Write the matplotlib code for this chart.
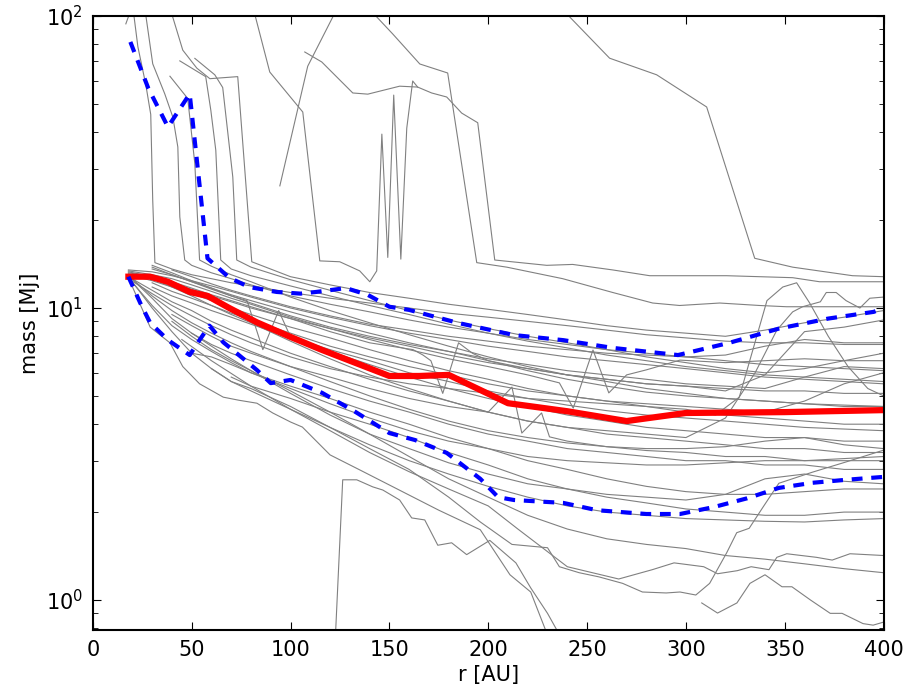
import numpy as np
import matplotlib.pyplot as plt

nan = np.nan

# radius grid shared by most of the grey tracks
r_grid = [18, 30, 40, 50, 60, 70, 80, 100, 120, 140, 160, 180, 200,
          220, 240, 260, 280, 300, 320, 340, 360, 380, 400]

band_1 = [13.0, 12.4, 11.8, 11.2, 10.6, 10.0, 9.5, 8.6, 7.9, 7.2, 6.6, 6.1, 5.7, 5.3, 5.0, 4.8, 4.6, 4.4, 4.3, 4.2, 4.1, 4.0, 4.0]
band_2 = [12.8, 11.5, 10.5, 9.8, 9.0, 8.4, 7.9, 7.0, 6.3, 5.7, 5.2, 4.8, 4.4, 4.1, 3.9, 3.7, 3.6, 3.5, 3.4, 3.3, 3.3, 3.2, 3.2]
band_3 = [13.2, 12.8, 12.2, 11.6, 11.0, 10.5, 10.0, 9.2, 8.5, 7.9, 7.4, 6.9, 6.5, 6.2, 5.9, 5.7, 5.5, 5.4, 5.3, 5.2, 5.2, 5.1, 5.1]
band_4 = [12.9, 10.8, 9.2, 8.2, 7.5, 7.0, 6.6, 5.9, 5.3, 4.8, 4.4, 4.0, 3.7, 3.5, 3.3, 3.2, 3.1, 3.0, 3.0, 2.9, 2.9, 2.8, 2.8]
band_5 = [nan, 14.0, 13.2, 12.4, 11.7, 11.0, 10.4, 9.4, 8.6, 8.0, 7.5, 7.1, 6.7, 6.4, 6.1, 5.9, 5.7, 5.5, 5.4, 5.3, 5.8, 6.3, 6.2]
band_6 = [nan, 11.8, 11.0, 10.4, 9.8, 9.3, 8.8, 7.9, 7.1, 6.4, 5.8, 5.3, 4.9, 4.6, 4.3, 4.1, 3.9, 3.8, 3.7, 3.6, 3.6, 3.5, 3.5]
band_7 = [nan, nan, nan, 7.0, 6.8, 6.4, 6.0, 5.4, 4.9, 4.4, 4.0, 3.6, 3.3, 3.0, 2.8, 2.6, 2.45, 2.35, 2.3, 2.3, 2.35, 2.4, 2.4]
band_8 = [nan, nan, nan, nan, nan, 5.8, 5.4, 4.9, 4.4, 4.0, 3.6, 3.2, 2.9, 2.6, 2.4, 2.25, 2.15, 2.05, 2.0, 1.95, 1.95, 2.0, 2.0]
band_9 = [nan, nan, 9.0, 8.0, 7.2, 6.6, 6.1, 5.2, 4.4, 3.7, 3.1, 2.6, 2.25, 1.95, 1.75, 1.62, 1.55, 1.5, 1.42, 1.38, 1.33, 1.28, 1.24]
band_10 = [nan, 13.6, 13.0, 12.3, 11.7, 11.1, 10.6, 9.7, 8.9, 8.2, 7.6, 7.1, 6.6, 6.2, 5.9, 5.7, 5.5, 5.4, 5.2, 5.9, 8.3, 8.6, 9.1]
band_11 = [12.7, 10.2, 8.7, 7.8, 7.1, 6.5, 6.0, 5.3, 4.7, 4.2, 3.8, 3.5, 3.3, 3.1, 3.0, 2.95, 2.9, 2.9, 2.95, 3.0, 3.0, 3.0, 3.0]
band_12 = [nan, nan, nan, nan, 6.2, 5.6, 5.2, 4.5, 3.9, 3.4, 3.0, 2.7, 2.45, 2.25, 2.1, 2.0, 1.95, 1.9, 1.88, 1.86, 1.85, 1.88, 1.9]
band_13 = [13.5, 13.3, 12.9, 12.4, 11.9, 11.4, 10.9, 10.0, 9.3, 8.7, 8.2, 7.8, 7.4, 7.1, 6.8, 6.6, 6.4, 6.2, 6.0, 5.8, 5.7, 5.6, 5.5]
band_14 = [nan, 12.2, 11.4, 10.8, 10.2, 9.6, 9.1, 8.2, 7.4, 6.8, 6.3, 5.9, 5.5, 5.2, 5.0, 4.8, 4.7, 4.6, 4.5, 4.4, 4.8, 5.5, 6.0]
band_15 = [12.9, 11.0, 9.8, 8.9, 8.2, 7.6, 7.1, 6.3, 5.6, 5.0, 4.5, 4.1, 3.8, 3.6, 3.45, 3.35, 3.3, 3.3, 3.35, 3.5, 3.6, 3.4, 3.3]
band_16 = [nan, nan, 13.5, 12.8, 12.1, 11.5, 11.0, 10.1, 9.4, 8.8, 8.4, 8.0, 7.7, 7.4, 7.2, 7.0, 6.9, 6.8, 6.9, 7.4, 7.8, 7.6, 7.6]
band_17 = [nan, nan, nan, 8.2, 7.4, 6.7, 6.1, 5.1, 4.3, 3.7, 3.3, 2.95, 2.7, 2.5, 2.4, 2.3, 2.25, 2.2, 2.3, 2.6, 2.7, 2.55, 2.5]

# tracks that start high and fall into the band
steep_a_r = [16.7, 19.7, 21.5]
steep_a_m = [94, 107, 115]
steep_b_r = [20.5, 22.8, 26.8, 29.3, 30.3, 31.4, 40, 50, 60, 70, 80, 100, 120, 140, 160, 180, 200, 220, 240, 260, 280, 300, 320, 340, 360, 380, 400]
steep_b_m = [104, 78.4, 58.2, 46.0, 23.4, 14.3, 13.6, 13.0, 12.6, 12.2, 11.9, 11.3, 10.8, 10.4, 10.0, 9.6, 9.3, 9.0, 8.7, 8.4, 8.1, 7.9, 7.7, 7.6, 7.6, 7.5, 7.5]
steep_c_r = [26.5, 30.3, 36.4, 40.5, 43, 44, 46.5, 50, 60, 70, 80, 100, 120, 140, 160, 180, 200, 220, 240, 260, 280, 300, 320, 340, 360, 380, 400]
steep_c_m = [104, 68.6, 54.1, 45, 35.6, 20.5, 14.6, 14.0, 13.2, 12.6, 12.0, 11.0, 10.3, 9.7, 9.1, 8.6, 8.2, 7.8, 7.5, 7.2, 7.0, 6.8, 6.6, 6.4, 6.3, 6.2, 6.1]
steep_d_r = [39.5, 45.5, 52.6, 59.2, 73.3, 80.4, 100, 120, 140, 160, 180, 200, 220, 240, 260, 280, 300, 320, 340, 360, 380, 400]
steep_d_m = [104, 76.4, 66.3, 61, 62, 14.4, 12.8, 12.0, 11.3, 10.8, 10.3, 9.9, 9.5, 9.1, 8.7, 8.4, 8.2, 8.0, 8.4, 8.9, 9.3, 9.8]
steep_e_r = [44, 57.1, 59.7, 62.2, 64.7, 70, 80, 100, 120, 140, 160, 180, 200, 220, 240, 260, 280, 300, 320, 340, 360, 380, 400]
steep_e_m = [70.2, 62, 47.5, 34.7, 14.6, 13.6, 12.9, 11.9, 11.0, 10.2, 9.5, 8.8, 8.2, 7.7, 7.3, 6.9, 6.6, 6.3, 6.1, 5.9, 5.8, 5.7, 5.6]
steep_f_r = [51.6, 61.7, 65.7, 70.8, 72.8, 80, 100, 120, 140, 160, 180, 200, 220, 240, 260, 280, 300, 320, 340, 360, 380, 400]
steep_f_m = [71.6, 62.9, 56.9, 28.1, 14.6, 13.8, 12.5, 11.5, 10.6, 9.8, 9.1, 8.5, 8.0, 7.6, 7.2, 6.8, 6.5, 6.2, 6.0, 6.2, 6.6, 7.0]
steep_g_r = [39, 48, 51.6, 54, 60, 70, 80, 100, 120, 140, 160, 180, 200, 220, 240, 260, 280, 300, 320, 340, 360, 380, 400]
steep_g_m = [62.2, 52.2, 31.2, 14.6, 13.9, 13.0, 12.3, 10.9, 9.8, 8.9, 8.1, 7.4, 6.8, 6.3, 5.9, 5.6, 5.3, 5.1, 4.9, 4.8, 4.7, 4.6, 4.6]
spiky_r = [81.5, 89.5, 106.2, 114.8, 124.9, 135, 140.1, 143.6, 146.2, 149.2, 152.2, 155.8, 158.8, 161.8, 164.3]
spiky_m = [104, 64.3, 46.9, 14.5, 14.4, 13.4, 12.3, 13.4, 39.4, 14.9, 53.6, 14.7, 41.3, 59.9, 57.1]
rising_r = [94.6, 108.7, 121.4, 123]
rising_m = [26.2, 67.3, 99.3, 108]
late_a_r = [107.2, 115.8, 131.5, 139.1, 155.2, 164.3, 171.4, 179, 186.6, 194.7, 203.3, 229.6, 242.7, 263, 281.7, 296.9, 320.6, 337.3, 354, 367.6, 400]
late_a_m = [75.3, 69.6, 54.5, 54.0, 57.5, 57.1, 54.5, 52.8, 46.5, 43.1, 14.6, 14.0, 14.1, 13.5, 12.9, 12.9, 12.9, 12.8, 12.7, 12.3, 12.3]
late_b_r = [141.5, 143.6, 151.7, 165.4, 179.5, 194.2, 209.4, 237.7, 263, 283.2, 296.8, 317.1, 337.3, 350.9, 400]
late_b_m = [106, 99.3, 86.8, 68.5, 63.8, 14.3, 13.8, 12.6, 11.3, 10.4, 10.2, 10.4, 10.2, 10.1, 10.1]
late_c_r = [238, 241.2, 261.4, 285.2, 310.5, 334.8, 354, 384.3, 400]
late_c_m = [106, 99.3, 71.7, 62.9, 48.8, 14.8, 13.8, 12.9, 12.8]

# low tracks and tracks with kinks
low_a_r = [122.5, 126.4, 133.5, 141.6, 146.7, 155.2, 161.3, 167.9, 174.5, 181.5, 189.1, 200.8, 214, 221.5, 230, 239]
low_a_m = [0.7, 2.58, 2.58, 2.44, 2.38, 2.2, 1.91, 1.88, 1.54, 1.57, 1.43, 1.6, 1.34, 1.1, 0.9, 0.7]
low_b_r = [18, 29, 39, 45.5, 54, 66, 74, 83, 91, 100, 106, 120, 135, 155, 175, 196, 211, 221.5, 232]
low_b_m = [12.7, 8.6, 7.6, 6.3, 5.5, 4.95, 4.83, 4.72, 4.37, 4.07, 3.91, 3.14, 2.79, 2.38, 2.03, 1.74, 1.22, 1.065, 0.7]
low_c_r = [308, 316, 325.8, 332.4, 340, 348.6, 353.6, 363, 373, 379, 389.6, 394.7, 400]
low_c_m = [0.977, 0.902, 0.977, 1.14, 1.22, 1.11, 1.11, 1.0, 0.90, 0.90, 0.83, 0.82, 0.84]
low_d_r = [18, 30, 40, 50, 60, 70, 80, 100, 120, 140, 160, 180, 196, 212, 230, 236, 246, 256, 268, 278, 290, 297, 305, 312, 320.6, 325.7, 332, 339, 347, 364, 381, 400]
low_d_m = [12.8, 10.0, 8.3, 7.0, 6.2, 5.6, 5.3, 4.6, 3.9, 3.3, 2.8, 2.25, 1.85, 1.55, 1.51, 1.30, 1.24, 1.2, 1.14, 1.065, 1.057, 1.065, 1.04, 1.14, 1.45, 1.70, 1.76, 2.08, 2.51, 2.74, 2.97, 3.26]
low_e_r = [45, 60, 80, 100, 120, 140, 160, 180, 200, 215, 240, 266, 283, 294, 309, 316, 326, 333, 342, 346, 351, 366, 374, 383, 400]
low_e_m = [7.8, 6.6, 5.4, 4.5, 3.8, 3.2, 2.75, 2.4, 2.1, 1.75, 1.30, 1.18, 1.27, 1.34, 1.30, 1.23, 1.26, 1.30, 1.27, 1.40, 1.44, 1.40, 1.37, 1.44, 1.42]
kink_a_r = [18, 30, 40, 50, 60, 70, 80, 100, 120, 140, 160, 180, 200, 220, 240, 260, 280, 300, 315, 327, 341, 349, 356, 362.6, 372, 382, 392, 400]
kink_a_m = [12.6, 11.2, 10.2, 9.4, 8.7, 8.1, 7.6, 6.8, 6.2, 5.8, 5.5, 5.3, 5.1, 4.9, 4.8, 4.7, 4.6, 4.5, 4.3, 4.95, 10.6, 11.8, 12.2, 10.4, 8.0, 6.3, 5.3, 5.0]
kink_b_r = [18, 30, 40, 50, 60, 70, 80, 100, 120, 140, 160, 180, 200, 220, 240, 260, 280, 300, 320, 335, 346, 354, 359, 368, 371, 376, 381, 388, 393, 400]
kink_b_m = [13.1, 12.6, 11.8, 11.0, 10.2, 9.5, 8.9, 7.7, 6.7, 5.9, 5.3, 4.8, 4.4, 4.1, 3.9, 3.8, 3.7, 3.6, 4.2, 6.0, 8.4, 9.7, 10.1, 10.5, 11.3, 11.3, 10.6, 10.0, 10.8, 10.9]
kink_c_r = [18, 30, 40, 50, 60, 70, 80, 100, 120, 140, 160, 180, 200, 220, 236, 243, 253, 261, 270, 280, 297, 320, 340, 360, 380, 400]
kink_c_m = [13.4, 13.0, 12.6, 12.0, 11.4, 10.8, 10.3, 9.3, 8.5, 7.8, 7.2, 6.7, 6.3, 5.9, 5.54, 4.54, 7.18, 5.12, 5.9, 6.14, 6.63, 6.5, 6.6, 6.7, 6.6, 6.6]
kink_d_r = [30, 40, 50, 60, 70, 78, 86, 94, 100, 120, 140, 160, 180, 200, 220, 240, 260, 280, 300, 320, 340, 360, 380, 400]
kink_d_m = [13.8, 13.0, 12.3, 11.6, 11.0, 10.6, 7.2, 9.8, 7.96, 7.2, 6.6, 6.0, 5.6, 5.2, 4.9, 4.65, 4.45, 4.3, 4.2, 4.1, 4.0, 3.9, 3.85, 3.8]
kink_e_r = [18, 30, 40, 50, 60, 70, 80, 100, 120, 140, 162, 167, 171, 177, 185, 192, 200, 220, 240, 260, 280, 300, 320, 340, 360, 380, 400]
kink_e_m = [13.3, 12.8, 12.3, 11.7, 11.1, 10.6, 10.1, 9.2, 8.3, 7.6, 7.2, 6.9, 6.6, 5.1, 7.6, 7.0, 6.6, 6.1, 5.7, 5.4, 5.15, 5.0, 4.9, 4.8, 4.7, 4.65, 4.6]
kink_f_r = [40, 50, 60, 70, 80, 100, 120, 140, 160, 180, 200, 212, 217, 227, 231, 240, 260, 280, 300, 320, 340, 360, 380, 400]
kink_f_m = [9.5, 8.7, 8.0, 7.4, 7.0, 6.3, 5.8, 5.3, 4.9, 4.6, 4.4, 5.36, 3.73, 4.37, 3.62, 3.5, 3.35, 3.25, 3.2, 3.1, 3.1, 3.0, 3.05, 3.1]

# median and 16/84 percentile curves
med_r = [18, 29, 38, 49, 58, 69, 83, 100, 116, 133, 150, 165, 180, 210, 240, 270, 300, 350, 400]
med_m = [12.8, 12.8, 12.3, 11.35, 11.0, 10.0, 8.93, 7.96, 7.18, 6.48, 5.85, 5.85, 5.9, 4.72, 4.43, 4.1, 4.37, 4.4, 4.47]
hi_r = [19, 28, 38, 49, 58, 69, 79, 93, 105, 113, 128, 139, 150, 160, 185, 213, 238, 263, 296, 322, 347, 372, 395, 400]
hi_m = [81.5, 56.7, 41.7, 54.1, 14.8, 12.7, 11.8, 11.35, 11.2, 11.35, 11.7, 11.1, 10.1, 9.85, 8.88, 8.08, 7.76, 7.3, 6.9, 7.6, 8.5, 9.2, 9.7, 10.0]
lo_r = [18, 24, 29, 38, 49, 54, 59, 66, 75, 83, 90, 100, 116, 133, 150, 163, 179, 196, 205, 213, 238, 255, 280, 297, 314, 331, 347, 364, 381, 400]
lo_m = [12.8, 10.4, 8.9, 7.77, 6.9, 7.77, 8.7, 7.63, 6.8, 6.13, 5.53, 5.67, 5.12, 4.4, 3.73, 3.53, 3.19, 2.6, 2.25, 2.2, 2.15, 2.03, 1.97, 1.97, 2.08, 2.23, 2.42, 2.52, 2.58, 2.64]

band_tracks = [band_1, band_2, band_3, band_4, band_5, band_6, band_7, band_8,
               band_9, band_10, band_11, band_12, band_13, band_14, band_15,
               band_16, band_17]
tracks = [(steep_a_r, steep_a_m), (steep_b_r, steep_b_m), (steep_c_r, steep_c_m),
          (steep_d_r, steep_d_m), (steep_e_r, steep_e_m), (steep_f_r, steep_f_m),
          (steep_g_r, steep_g_m), (spiky_r, spiky_m), (rising_r, rising_m),
          (late_a_r, late_a_m), (late_b_r, late_b_m), (late_c_r, late_c_m),
          (low_a_r, low_a_m), (low_b_r, low_b_m), (low_c_r, low_c_m),
          (low_d_r, low_d_m), (low_e_r, low_e_m), (kink_a_r, kink_a_m),
          (kink_b_r, kink_b_m), (kink_c_r, kink_c_m), (kink_d_r, kink_d_m),
          (kink_e_r, kink_e_m), (kink_f_r, kink_f_m)]
tracks += [(r_grid, b) for b in band_tracks]

plt.rcParams['font.family'] = 'DejaVu Sans'
plt.rcParams['font.size'] = 15
plt.rcParams['axes.linewidth'] = 1.5
plt.rcParams['xtick.direction'] = 'in'
plt.rcParams['ytick.direction'] = 'in'
plt.rcParams['xtick.top'] = True
plt.rcParams['ytick.right'] = True
plt.rcParams['xtick.major.size'] = 6
plt.rcParams['ytick.major.size'] = 6
plt.rcParams['ytick.minor.size'] = 3.5
plt.rcParams['xtick.major.pad'] = 7
plt.rcParams['ytick.major.pad'] = 7

fig = plt.figure(figsize=(9.1, 6.96), dpi=100)
ax = fig.add_axes([0.102, 0.095, 0.869, 0.882])

for r, m in tracks:
    ax.plot(r, m, color='grey', lw=0.8)

ax.plot(med_r, med_m, color='red', lw=4.5)
ax.plot(hi_r, hi_m, color='blue', lw=3, ls=(0, (2.6, 2.1)))
ax.plot(lo_r, lo_m, color='blue', lw=3, ls=(0, (2.6, 2.1)))

ax.set_yscale('log')
ax.set_xlim(0, 400)
ax.set_ylim(0.79, 100)
ax.set_xlabel('r [AU]')
ax.set_ylabel('mass [Mj]')

fig.savefig('out.png', dpi=100, facecolor='white')
